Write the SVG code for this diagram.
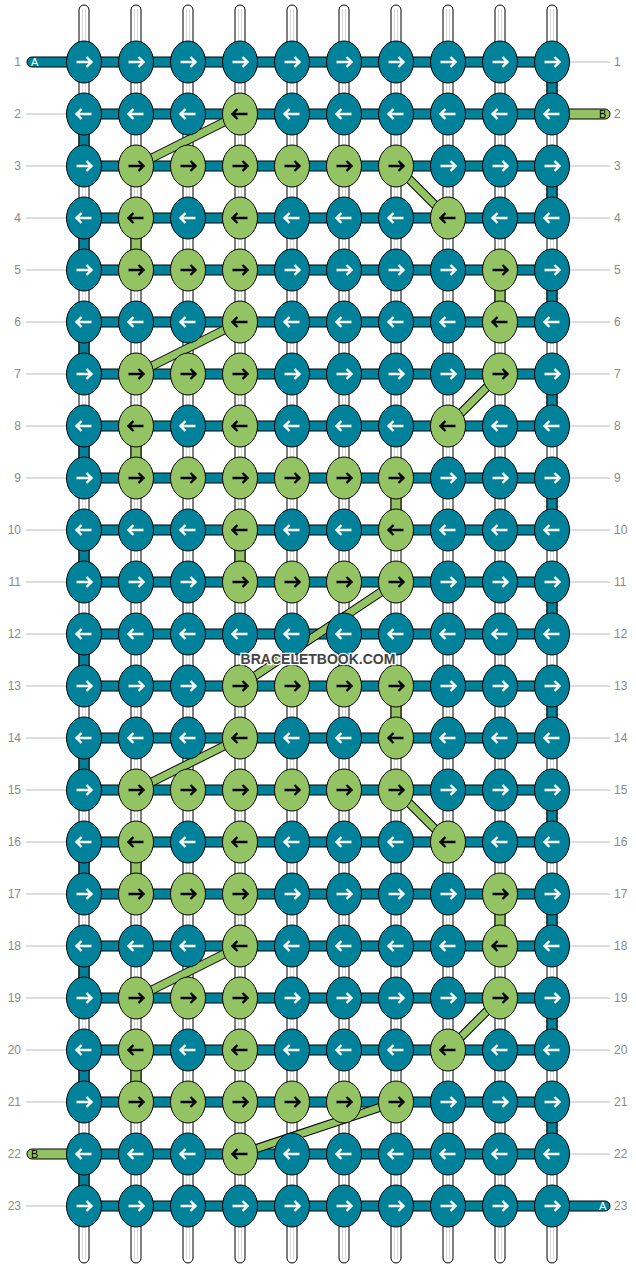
<svg xmlns="http://www.w3.org/2000/svg" xmlns:xlink="http://www.w3.org/1999/xlink" width="636" height="1268" viewBox="0 0 636 1268">
<style>
.str{fill:#fff;stroke:#000;stroke-width:1}
.strl{stroke:#d8d8d8;stroke-width:1}
.guide{stroke:#bbb;stroke-width:1}
.bar{fill:#00829A;stroke:#000;stroke-width:1}
.gbar{fill:#93C363;stroke:#000;stroke-width:1}
.dgo{stroke:#000;stroke-width:9;fill:none}
.dgi{stroke:#93C363;stroke-width:7;fill:none}
.tn{fill:#00829A;stroke:#000;stroke-width:1}
.gn{fill:#93C363;stroke:#000;stroke-width:1}
.aw{fill:none;stroke:#fff;stroke-width:2.4}
.ab{fill:none;stroke:#000;stroke-width:2.4}
.num{font-family:"Liberation Sans",Arial,sans-serif;font-size:12px;fill:#8a8a8a}
.lab{font-family:"Liberation Sans",Arial,sans-serif;font-size:11px}
.wm{font-family:"Liberation Sans",Arial,sans-serif;font-size:14px;font-weight:bold;fill:#444;stroke:#fff;stroke-width:2.5;paint-order:stroke;text-anchor:middle}
</style>
<defs>
<g id="tR"><ellipse rx="17.5" ry="21" class="tn"/><path d="M-7.5,0H7M2.5,-5L7.5,0L2.5,5" class="aw"/></g>
<g id="tL"><ellipse rx="17.5" ry="21" class="tn"/><path d="M7.5,0H-7M-2.5,-5L-7.5,0L-2.5,5" class="aw"/></g>
<g id="gR"><ellipse rx="17.5" ry="21" class="gn"/><path d="M-7.5,0H7M2.5,-5L7.5,0L2.5,5" class="ab"/></g>
<g id="gL"><ellipse rx="17.5" ry="21" class="gn"/><path d="M7.5,0H-7M-2.5,-5L-7.5,0L-2.5,5" class="ab"/></g>
<g id="strand"><rect x="-5" y="5" width="10" height="1258" rx="5" class="str"/><line x1="-1.5" y1="9" x2="-1.5" y2="1259" class="strl"/><line x1="1.5" y1="9" x2="1.5" y2="1259" class="strl"/></g>
</defs>
<g id="strings">
<use href="#strand" x="84"/><use href="#strand" x="136"/><use href="#strand" x="188"/><use href="#strand" x="240"/><use href="#strand" x="292"/><use href="#strand" x="344"/><use href="#strand" x="396"/><use href="#strand" x="448"/><use href="#strand" x="500"/><use href="#strand" x="552"/>
</g>
<g id="guides">
<line x1="26" y1="114" x2="66" y2="114" class="guide"/><line x1="26" y1="166" x2="66" y2="166" class="guide"/><line x1="26" y1="218" x2="66" y2="218" class="guide"/><line x1="26" y1="270" x2="66" y2="270" class="guide"/><line x1="26" y1="322" x2="66" y2="322" class="guide"/><line x1="26" y1="374" x2="66" y2="374" class="guide"/><line x1="26" y1="426" x2="66" y2="426" class="guide"/><line x1="26" y1="478" x2="66" y2="478" class="guide"/><line x1="26" y1="530" x2="66" y2="530" class="guide"/><line x1="26" y1="582" x2="66" y2="582" class="guide"/><line x1="26" y1="634" x2="66" y2="634" class="guide"/><line x1="26" y1="686" x2="66" y2="686" class="guide"/><line x1="26" y1="738" x2="66" y2="738" class="guide"/><line x1="26" y1="790" x2="66" y2="790" class="guide"/><line x1="26" y1="842" x2="66" y2="842" class="guide"/><line x1="26" y1="894" x2="66" y2="894" class="guide"/><line x1="26" y1="946" x2="66" y2="946" class="guide"/><line x1="26" y1="998" x2="66" y2="998" class="guide"/><line x1="26" y1="1050" x2="66" y2="1050" class="guide"/><line x1="26" y1="1102" x2="66" y2="1102" class="guide"/><line x1="26" y1="1206" x2="66" y2="1206" class="guide"/>
<line x1="570" y1="62" x2="610" y2="62" class="guide"/><line x1="570" y1="166" x2="610" y2="166" class="guide"/><line x1="570" y1="218" x2="610" y2="218" class="guide"/><line x1="570" y1="270" x2="610" y2="270" class="guide"/><line x1="570" y1="322" x2="610" y2="322" class="guide"/><line x1="570" y1="374" x2="610" y2="374" class="guide"/><line x1="570" y1="426" x2="610" y2="426" class="guide"/><line x1="570" y1="478" x2="610" y2="478" class="guide"/><line x1="570" y1="530" x2="610" y2="530" class="guide"/><line x1="570" y1="582" x2="610" y2="582" class="guide"/><line x1="570" y1="634" x2="610" y2="634" class="guide"/><line x1="570" y1="686" x2="610" y2="686" class="guide"/><line x1="570" y1="738" x2="610" y2="738" class="guide"/><line x1="570" y1="790" x2="610" y2="790" class="guide"/><line x1="570" y1="842" x2="610" y2="842" class="guide"/><line x1="570" y1="894" x2="610" y2="894" class="guide"/><line x1="570" y1="946" x2="610" y2="946" class="guide"/><line x1="570" y1="998" x2="610" y2="998" class="guide"/><line x1="570" y1="1050" x2="610" y2="1050" class="guide"/><line x1="570" y1="1102" x2="610" y2="1102" class="guide"/><line x1="570" y1="1154" x2="610" y2="1154" class="guide"/>
</g>
<g id="connectors">
<rect x="27" y="57" width="62" height="10" rx="5" class="bar"/>
<rect x="547" y="109" width="63" height="10" rx="5" class="gbar"/>
<rect x="27" y="1149" width="62" height="10" rx="5" class="gbar"/>
<rect x="547" y="1201" width="63" height="10" rx="5" class="bar"/>
<rect x="84" y="57" width="468" height="10" class="bar"/><rect x="84" y="109" width="468" height="10" class="bar"/><rect x="84" y="161" width="468" height="10" class="bar"/><rect x="84" y="213" width="468" height="10" class="bar"/><rect x="84" y="265" width="468" height="10" class="bar"/><rect x="84" y="317" width="468" height="10" class="bar"/><rect x="84" y="369" width="468" height="10" class="bar"/><rect x="84" y="421" width="468" height="10" class="bar"/><rect x="84" y="473" width="468" height="10" class="bar"/><rect x="84" y="525" width="468" height="10" class="bar"/><rect x="84" y="577" width="468" height="10" class="bar"/><rect x="84" y="629" width="468" height="10" class="bar"/><rect x="84" y="681" width="468" height="10" class="bar"/><rect x="84" y="733" width="468" height="10" class="bar"/><rect x="84" y="785" width="468" height="10" class="bar"/><rect x="84" y="837" width="468" height="10" class="bar"/><rect x="84" y="889" width="468" height="10" class="bar"/><rect x="84" y="941" width="468" height="10" class="bar"/><rect x="84" y="993" width="468" height="10" class="bar"/><rect x="84" y="1045" width="468" height="10" class="bar"/><rect x="84" y="1097" width="468" height="10" class="bar"/><rect x="84" y="1149" width="468" height="10" class="bar"/><rect x="84" y="1201" width="468" height="10" class="bar"/>
<rect x="547" y="62" width="10" height="52" class="bar"/><rect x="79" y="114" width="10" height="52" class="bar"/><rect x="547" y="166" width="10" height="52" class="bar"/><rect x="79" y="218" width="10" height="52" class="bar"/><rect x="547" y="270" width="10" height="52" class="bar"/><rect x="79" y="322" width="10" height="52" class="bar"/><rect x="547" y="374" width="10" height="52" class="bar"/><rect x="79" y="426" width="10" height="52" class="bar"/><rect x="547" y="478" width="10" height="52" class="bar"/><rect x="79" y="530" width="10" height="52" class="bar"/><rect x="547" y="582" width="10" height="52" class="bar"/><rect x="79" y="634" width="10" height="52" class="bar"/><rect x="547" y="686" width="10" height="52" class="bar"/><rect x="79" y="738" width="10" height="52" class="bar"/><rect x="547" y="790" width="10" height="52" class="bar"/><rect x="79" y="842" width="10" height="52" class="bar"/><rect x="547" y="894" width="10" height="52" class="bar"/><rect x="79" y="946" width="10" height="52" class="bar"/><rect x="547" y="998" width="10" height="52" class="bar"/><rect x="79" y="1050" width="10" height="52" class="bar"/><rect x="547" y="1102" width="10" height="52" class="bar"/><rect x="79" y="1154" width="10" height="52" class="bar"/>
<rect x="131" y="218" width="10" height="52" class="gbar"/><rect x="495" y="270" width="10" height="52" class="gbar"/><rect x="131" y="426" width="10" height="52" class="gbar"/><rect x="391" y="478" width="10" height="52" class="gbar"/><rect x="235" y="530" width="10" height="52" class="gbar"/><rect x="391" y="686" width="10" height="52" class="gbar"/><rect x="131" y="842" width="10" height="52" class="gbar"/><rect x="495" y="894" width="10" height="52" class="gbar"/><rect x="131" y="1050" width="10" height="52" class="gbar"/>
<path d="M240,114L136,166M396,166L448,218M240,322L136,374M500,374L448,426M396,582L240,686M240,738L136,790M396,790L448,842M240,946L136,998M500,998L448,1050M396,1102L240,1154" class="dgo"/>
<path d="M240,114L136,166M396,166L448,218M240,322L136,374M500,374L448,426M396,582L240,686M240,738L136,790M396,790L448,842M240,946L136,998M500,998L448,1050M396,1102L240,1154" class="dgi"/>
</g>
<g id="nodes">
<g id="n1-1" transform="translate(84,62)"><use href="#tR"/></g><g id="n1-2" transform="translate(136,62)"><use href="#tR"/></g><g id="n1-3" transform="translate(188,62)"><use href="#tR"/></g><g id="n1-4" transform="translate(240,62)"><use href="#tR"/></g><g id="n1-5" transform="translate(292,62)"><use href="#tR"/></g><g id="n1-6" transform="translate(344,62)"><use href="#tR"/></g><g id="n1-7" transform="translate(396,62)"><use href="#tR"/></g><g id="n1-8" transform="translate(448,62)"><use href="#tR"/></g><g id="n1-9" transform="translate(500,62)"><use href="#tR"/></g><g id="n1-10" transform="translate(552,62)"><use href="#tR"/></g>
<g id="n2-1" transform="translate(84,114)"><use href="#tL"/></g><g id="n2-2" transform="translate(136,114)"><use href="#tL"/></g><g id="n2-3" transform="translate(188,114)"><use href="#tL"/></g><g id="n2-4" transform="translate(240,114)"><use href="#gL"/></g><g id="n2-5" transform="translate(292,114)"><use href="#tL"/></g><g id="n2-6" transform="translate(344,114)"><use href="#tL"/></g><g id="n2-7" transform="translate(396,114)"><use href="#tL"/></g><g id="n2-8" transform="translate(448,114)"><use href="#tL"/></g><g id="n2-9" transform="translate(500,114)"><use href="#tL"/></g><g id="n2-10" transform="translate(552,114)"><use href="#tL"/></g>
<g id="n3-1" transform="translate(84,166)"><use href="#tR"/></g><g id="n3-2" transform="translate(136,166)"><use href="#gR"/></g><g id="n3-3" transform="translate(188,166)"><use href="#gR"/></g><g id="n3-4" transform="translate(240,166)"><use href="#gR"/></g><g id="n3-5" transform="translate(292,166)"><use href="#gR"/></g><g id="n3-6" transform="translate(344,166)"><use href="#gR"/></g><g id="n3-7" transform="translate(396,166)"><use href="#gR"/></g><g id="n3-8" transform="translate(448,166)"><use href="#tR"/></g><g id="n3-9" transform="translate(500,166)"><use href="#tR"/></g><g id="n3-10" transform="translate(552,166)"><use href="#tR"/></g>
<g id="n4-1" transform="translate(84,218)"><use href="#tL"/></g><g id="n4-2" transform="translate(136,218)"><use href="#gL"/></g><g id="n4-3" transform="translate(188,218)"><use href="#tL"/></g><g id="n4-4" transform="translate(240,218)"><use href="#gL"/></g><g id="n4-5" transform="translate(292,218)"><use href="#tL"/></g><g id="n4-6" transform="translate(344,218)"><use href="#tL"/></g><g id="n4-7" transform="translate(396,218)"><use href="#tL"/></g><g id="n4-8" transform="translate(448,218)"><use href="#gL"/></g><g id="n4-9" transform="translate(500,218)"><use href="#tL"/></g><g id="n4-10" transform="translate(552,218)"><use href="#tL"/></g>
<g id="n5-1" transform="translate(84,270)"><use href="#tR"/></g><g id="n5-2" transform="translate(136,270)"><use href="#gR"/></g><g id="n5-3" transform="translate(188,270)"><use href="#gR"/></g><g id="n5-4" transform="translate(240,270)"><use href="#gR"/></g><g id="n5-5" transform="translate(292,270)"><use href="#tR"/></g><g id="n5-6" transform="translate(344,270)"><use href="#tR"/></g><g id="n5-7" transform="translate(396,270)"><use href="#tR"/></g><g id="n5-8" transform="translate(448,270)"><use href="#tR"/></g><g id="n5-9" transform="translate(500,270)"><use href="#gR"/></g><g id="n5-10" transform="translate(552,270)"><use href="#tR"/></g>
<g id="n6-1" transform="translate(84,322)"><use href="#tL"/></g><g id="n6-2" transform="translate(136,322)"><use href="#tL"/></g><g id="n6-3" transform="translate(188,322)"><use href="#tL"/></g><g id="n6-4" transform="translate(240,322)"><use href="#gL"/></g><g id="n6-5" transform="translate(292,322)"><use href="#tL"/></g><g id="n6-6" transform="translate(344,322)"><use href="#tL"/></g><g id="n6-7" transform="translate(396,322)"><use href="#tL"/></g><g id="n6-8" transform="translate(448,322)"><use href="#tL"/></g><g id="n6-9" transform="translate(500,322)"><use href="#gL"/></g><g id="n6-10" transform="translate(552,322)"><use href="#tL"/></g>
<g id="n7-1" transform="translate(84,374)"><use href="#tR"/></g><g id="n7-2" transform="translate(136,374)"><use href="#gR"/></g><g id="n7-3" transform="translate(188,374)"><use href="#gR"/></g><g id="n7-4" transform="translate(240,374)"><use href="#gR"/></g><g id="n7-5" transform="translate(292,374)"><use href="#tR"/></g><g id="n7-6" transform="translate(344,374)"><use href="#tR"/></g><g id="n7-7" transform="translate(396,374)"><use href="#tR"/></g><g id="n7-8" transform="translate(448,374)"><use href="#tR"/></g><g id="n7-9" transform="translate(500,374)"><use href="#gR"/></g><g id="n7-10" transform="translate(552,374)"><use href="#tR"/></g>
<g id="n8-1" transform="translate(84,426)"><use href="#tL"/></g><g id="n8-2" transform="translate(136,426)"><use href="#gL"/></g><g id="n8-3" transform="translate(188,426)"><use href="#tL"/></g><g id="n8-4" transform="translate(240,426)"><use href="#gL"/></g><g id="n8-5" transform="translate(292,426)"><use href="#tL"/></g><g id="n8-6" transform="translate(344,426)"><use href="#tL"/></g><g id="n8-7" transform="translate(396,426)"><use href="#tL"/></g><g id="n8-8" transform="translate(448,426)"><use href="#gL"/></g><g id="n8-9" transform="translate(500,426)"><use href="#tL"/></g><g id="n8-10" transform="translate(552,426)"><use href="#tL"/></g>
<g id="n9-1" transform="translate(84,478)"><use href="#tR"/></g><g id="n9-2" transform="translate(136,478)"><use href="#gR"/></g><g id="n9-3" transform="translate(188,478)"><use href="#gR"/></g><g id="n9-4" transform="translate(240,478)"><use href="#gR"/></g><g id="n9-5" transform="translate(292,478)"><use href="#gR"/></g><g id="n9-6" transform="translate(344,478)"><use href="#gR"/></g><g id="n9-7" transform="translate(396,478)"><use href="#gR"/></g><g id="n9-8" transform="translate(448,478)"><use href="#tR"/></g><g id="n9-9" transform="translate(500,478)"><use href="#tR"/></g><g id="n9-10" transform="translate(552,478)"><use href="#tR"/></g>
<g id="n10-1" transform="translate(84,530)"><use href="#tL"/></g><g id="n10-2" transform="translate(136,530)"><use href="#tL"/></g><g id="n10-3" transform="translate(188,530)"><use href="#tL"/></g><g id="n10-4" transform="translate(240,530)"><use href="#gL"/></g><g id="n10-5" transform="translate(292,530)"><use href="#tL"/></g><g id="n10-6" transform="translate(344,530)"><use href="#tL"/></g><g id="n10-7" transform="translate(396,530)"><use href="#gL"/></g><g id="n10-8" transform="translate(448,530)"><use href="#tL"/></g><g id="n10-9" transform="translate(500,530)"><use href="#tL"/></g><g id="n10-10" transform="translate(552,530)"><use href="#tL"/></g>
<g id="n11-1" transform="translate(84,582)"><use href="#tR"/></g><g id="n11-2" transform="translate(136,582)"><use href="#tR"/></g><g id="n11-3" transform="translate(188,582)"><use href="#tR"/></g><g id="n11-4" transform="translate(240,582)"><use href="#gR"/></g><g id="n11-5" transform="translate(292,582)"><use href="#gR"/></g><g id="n11-6" transform="translate(344,582)"><use href="#gR"/></g><g id="n11-7" transform="translate(396,582)"><use href="#gR"/></g><g id="n11-8" transform="translate(448,582)"><use href="#tR"/></g><g id="n11-9" transform="translate(500,582)"><use href="#tR"/></g><g id="n11-10" transform="translate(552,582)"><use href="#tR"/></g>
<g id="n12-1" transform="translate(84,634)"><use href="#tL"/></g><g id="n12-2" transform="translate(136,634)"><use href="#tL"/></g><g id="n12-3" transform="translate(188,634)"><use href="#tL"/></g><g id="n12-4" transform="translate(240,634)"><use href="#tL"/></g><g id="n12-5" transform="translate(292,634)"><use href="#tL"/></g><g id="n12-6" transform="translate(344,634)"><use href="#tL"/></g><g id="n12-7" transform="translate(396,634)"><use href="#tL"/></g><g id="n12-8" transform="translate(448,634)"><use href="#tL"/></g><g id="n12-9" transform="translate(500,634)"><use href="#tL"/></g><g id="n12-10" transform="translate(552,634)"><use href="#tL"/></g>
<g id="n13-1" transform="translate(84,686)"><use href="#tR"/></g><g id="n13-2" transform="translate(136,686)"><use href="#tR"/></g><g id="n13-3" transform="translate(188,686)"><use href="#tR"/></g><g id="n13-4" transform="translate(240,686)"><use href="#gR"/></g><g id="n13-5" transform="translate(292,686)"><use href="#gR"/></g><g id="n13-6" transform="translate(344,686)"><use href="#gR"/></g><g id="n13-7" transform="translate(396,686)"><use href="#gR"/></g><g id="n13-8" transform="translate(448,686)"><use href="#tR"/></g><g id="n13-9" transform="translate(500,686)"><use href="#tR"/></g><g id="n13-10" transform="translate(552,686)"><use href="#tR"/></g>
<g id="n14-1" transform="translate(84,738)"><use href="#tL"/></g><g id="n14-2" transform="translate(136,738)"><use href="#tL"/></g><g id="n14-3" transform="translate(188,738)"><use href="#tL"/></g><g id="n14-4" transform="translate(240,738)"><use href="#gL"/></g><g id="n14-5" transform="translate(292,738)"><use href="#tL"/></g><g id="n14-6" transform="translate(344,738)"><use href="#tL"/></g><g id="n14-7" transform="translate(396,738)"><use href="#gL"/></g><g id="n14-8" transform="translate(448,738)"><use href="#tL"/></g><g id="n14-9" transform="translate(500,738)"><use href="#tL"/></g><g id="n14-10" transform="translate(552,738)"><use href="#tL"/></g>
<g id="n15-1" transform="translate(84,790)"><use href="#tR"/></g><g id="n15-2" transform="translate(136,790)"><use href="#gR"/></g><g id="n15-3" transform="translate(188,790)"><use href="#gR"/></g><g id="n15-4" transform="translate(240,790)"><use href="#gR"/></g><g id="n15-5" transform="translate(292,790)"><use href="#gR"/></g><g id="n15-6" transform="translate(344,790)"><use href="#gR"/></g><g id="n15-7" transform="translate(396,790)"><use href="#gR"/></g><g id="n15-8" transform="translate(448,790)"><use href="#tR"/></g><g id="n15-9" transform="translate(500,790)"><use href="#tR"/></g><g id="n15-10" transform="translate(552,790)"><use href="#tR"/></g>
<g id="n16-1" transform="translate(84,842)"><use href="#tL"/></g><g id="n16-2" transform="translate(136,842)"><use href="#gL"/></g><g id="n16-3" transform="translate(188,842)"><use href="#tL"/></g><g id="n16-4" transform="translate(240,842)"><use href="#gL"/></g><g id="n16-5" transform="translate(292,842)"><use href="#tL"/></g><g id="n16-6" transform="translate(344,842)"><use href="#tL"/></g><g id="n16-7" transform="translate(396,842)"><use href="#tL"/></g><g id="n16-8" transform="translate(448,842)"><use href="#gL"/></g><g id="n16-9" transform="translate(500,842)"><use href="#tL"/></g><g id="n16-10" transform="translate(552,842)"><use href="#tL"/></g>
<g id="n17-1" transform="translate(84,894)"><use href="#tR"/></g><g id="n17-2" transform="translate(136,894)"><use href="#gR"/></g><g id="n17-3" transform="translate(188,894)"><use href="#gR"/></g><g id="n17-4" transform="translate(240,894)"><use href="#gR"/></g><g id="n17-5" transform="translate(292,894)"><use href="#tR"/></g><g id="n17-6" transform="translate(344,894)"><use href="#tR"/></g><g id="n17-7" transform="translate(396,894)"><use href="#tR"/></g><g id="n17-8" transform="translate(448,894)"><use href="#tR"/></g><g id="n17-9" transform="translate(500,894)"><use href="#gR"/></g><g id="n17-10" transform="translate(552,894)"><use href="#tR"/></g>
<g id="n18-1" transform="translate(84,946)"><use href="#tL"/></g><g id="n18-2" transform="translate(136,946)"><use href="#tL"/></g><g id="n18-3" transform="translate(188,946)"><use href="#tL"/></g><g id="n18-4" transform="translate(240,946)"><use href="#gL"/></g><g id="n18-5" transform="translate(292,946)"><use href="#tL"/></g><g id="n18-6" transform="translate(344,946)"><use href="#tL"/></g><g id="n18-7" transform="translate(396,946)"><use href="#tL"/></g><g id="n18-8" transform="translate(448,946)"><use href="#tL"/></g><g id="n18-9" transform="translate(500,946)"><use href="#gL"/></g><g id="n18-10" transform="translate(552,946)"><use href="#tL"/></g>
<g id="n19-1" transform="translate(84,998)"><use href="#tR"/></g><g id="n19-2" transform="translate(136,998)"><use href="#gR"/></g><g id="n19-3" transform="translate(188,998)"><use href="#gR"/></g><g id="n19-4" transform="translate(240,998)"><use href="#gR"/></g><g id="n19-5" transform="translate(292,998)"><use href="#tR"/></g><g id="n19-6" transform="translate(344,998)"><use href="#tR"/></g><g id="n19-7" transform="translate(396,998)"><use href="#tR"/></g><g id="n19-8" transform="translate(448,998)"><use href="#tR"/></g><g id="n19-9" transform="translate(500,998)"><use href="#gR"/></g><g id="n19-10" transform="translate(552,998)"><use href="#tR"/></g>
<g id="n20-1" transform="translate(84,1050)"><use href="#tL"/></g><g id="n20-2" transform="translate(136,1050)"><use href="#gL"/></g><g id="n20-3" transform="translate(188,1050)"><use href="#tL"/></g><g id="n20-4" transform="translate(240,1050)"><use href="#gL"/></g><g id="n20-5" transform="translate(292,1050)"><use href="#tL"/></g><g id="n20-6" transform="translate(344,1050)"><use href="#tL"/></g><g id="n20-7" transform="translate(396,1050)"><use href="#tL"/></g><g id="n20-8" transform="translate(448,1050)"><use href="#gL"/></g><g id="n20-9" transform="translate(500,1050)"><use href="#tL"/></g><g id="n20-10" transform="translate(552,1050)"><use href="#tL"/></g>
<g id="n21-1" transform="translate(84,1102)"><use href="#tR"/></g><g id="n21-2" transform="translate(136,1102)"><use href="#gR"/></g><g id="n21-3" transform="translate(188,1102)"><use href="#gR"/></g><g id="n21-4" transform="translate(240,1102)"><use href="#gR"/></g><g id="n21-5" transform="translate(292,1102)"><use href="#gR"/></g><g id="n21-6" transform="translate(344,1102)"><use href="#gR"/></g><g id="n21-7" transform="translate(396,1102)"><use href="#gR"/></g><g id="n21-8" transform="translate(448,1102)"><use href="#tR"/></g><g id="n21-9" transform="translate(500,1102)"><use href="#tR"/></g><g id="n21-10" transform="translate(552,1102)"><use href="#tR"/></g>
<g id="n22-1" transform="translate(84,1154)"><use href="#tL"/></g><g id="n22-2" transform="translate(136,1154)"><use href="#tL"/></g><g id="n22-3" transform="translate(188,1154)"><use href="#tL"/></g><g id="n22-4" transform="translate(240,1154)"><use href="#gL"/></g><g id="n22-5" transform="translate(292,1154)"><use href="#tL"/></g><g id="n22-6" transform="translate(344,1154)"><use href="#tL"/></g><g id="n22-7" transform="translate(396,1154)"><use href="#tL"/></g><g id="n22-8" transform="translate(448,1154)"><use href="#tL"/></g><g id="n22-9" transform="translate(500,1154)"><use href="#tL"/></g><g id="n22-10" transform="translate(552,1154)"><use href="#tL"/></g>
<g id="n23-1" transform="translate(84,1206)"><use href="#tR"/></g><g id="n23-2" transform="translate(136,1206)"><use href="#tR"/></g><g id="n23-3" transform="translate(188,1206)"><use href="#tR"/></g><g id="n23-4" transform="translate(240,1206)"><use href="#tR"/></g><g id="n23-5" transform="translate(292,1206)"><use href="#tR"/></g><g id="n23-6" transform="translate(344,1206)"><use href="#tR"/></g><g id="n23-7" transform="translate(396,1206)"><use href="#tR"/></g><g id="n23-8" transform="translate(448,1206)"><use href="#tR"/></g><g id="n23-9" transform="translate(500,1206)"><use href="#tR"/></g><g id="n23-10" transform="translate(552,1206)"><use href="#tR"/></g>
</g>
<g id="end-labels" class="lab">
<text x="31" y="66" fill="#fff">A</text>
<text x="599" y="118" fill="#000">B</text>
<text x="31" y="1158" fill="#000">B</text>
<text x="599" y="1210" fill="#fff">A</text>
</g>
<g id="row-numbers" class="num">
<g text-anchor="end">
<text x="21" y="66">1</text><text x="21" y="118">2</text><text x="21" y="170">3</text><text x="21" y="222">4</text><text x="21" y="274">5</text><text x="21" y="326">6</text><text x="21" y="378">7</text><text x="21" y="430">8</text><text x="21" y="482">9</text><text x="21" y="534">10</text><text x="21" y="586">11</text><text x="21" y="638">12</text><text x="21" y="690">13</text><text x="21" y="742">14</text><text x="21" y="794">15</text><text x="21" y="846">16</text><text x="21" y="898">17</text><text x="21" y="950">18</text><text x="21" y="1002">19</text><text x="21" y="1054">20</text><text x="21" y="1106">21</text><text x="21" y="1158">22</text><text x="21" y="1210">23</text>
</g>
<text x="614" y="66">1</text><text x="614" y="118">2</text><text x="614" y="170">3</text><text x="614" y="222">4</text><text x="614" y="274">5</text><text x="614" y="326">6</text><text x="614" y="378">7</text><text x="614" y="430">8</text><text x="614" y="482">9</text><text x="614" y="534">10</text><text x="614" y="586">11</text><text x="614" y="638">12</text><text x="614" y="690">13</text><text x="614" y="742">14</text><text x="614" y="794">15</text><text x="614" y="846">16</text><text x="614" y="898">17</text><text x="614" y="950">18</text><text x="614" y="1002">19</text><text x="614" y="1054">20</text><text x="614" y="1106">21</text><text x="614" y="1158">22</text><text x="614" y="1210">23</text>
</g>
<text x="318" y="664" class="wm">BRACELETBOOK.COM</text>
</svg>
